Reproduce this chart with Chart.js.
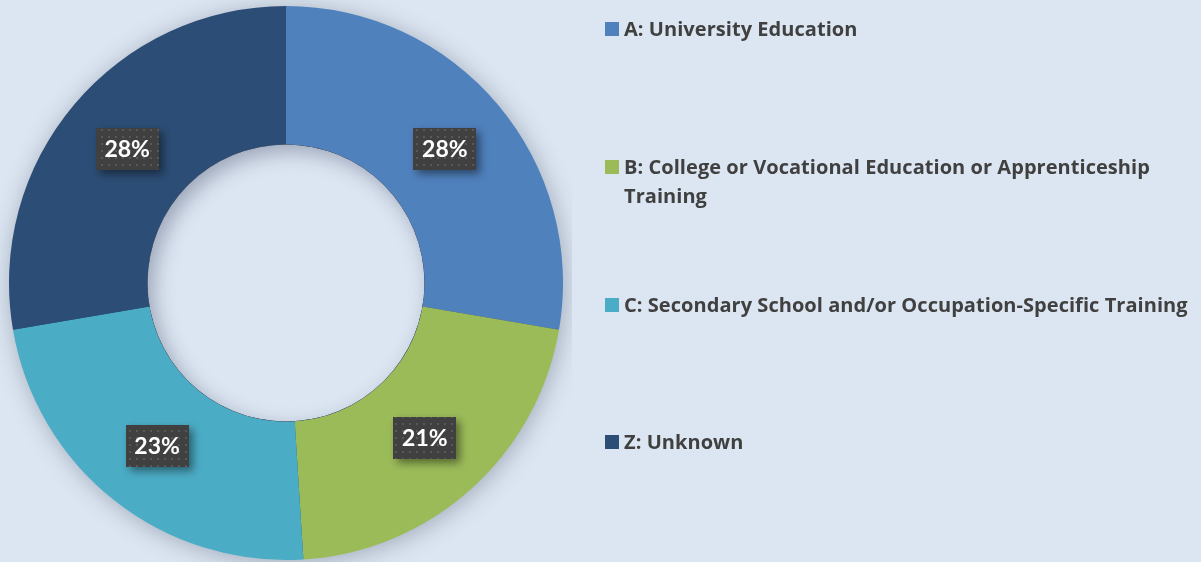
<!DOCTYPE html>
<html>
<head>
<meta charset="utf-8">
<script src="https://cdn.jsdelivr.net/npm/chart.js@4"></script>
<style>
  body { margin: 0; background: #dce6f2; }
  #wrap { position: relative; width: 1201px; height: 562px; overflow: hidden; background: #dce6f2; }
  #chartBox { position: absolute; left: 0; top: 0; width: 572px; height: 562px; }
  #legend { position: absolute; left: 0; top: 0; width: 1201px; height: 562px; pointer-events: none; }
  .item { position: absolute; left: 605px; font-family: "Open Sans", sans-serif; font-weight: bold; color: #404040;
          font-size: 20px; line-height: 29px; letter-spacing: 0.05px; }
  .item .sw { position: absolute; left: 0; top: 8px; width: 14px; height: 14px; }
  .item .tx { position: absolute; left: 19px; top: 0; width: 578px; }
</style>
</head>
<body>
<div id="wrap">
  <div id="chartBox"><canvas id="donut"></canvas></div>
  <div id="legend"></div>
</div>
<script>
const categories = [
  'A: University Education',
  'B: College or Vocational Education or Apprenticeship Training',
  'C: Secondary School and/or Occupation-Specific Training',
  'Z: Unknown'
];
const shares = [27.7, 21.3, 23.3, 27.7];
const colours = ['#4f81bd', '#9bbb59', '#4bacc6', '#2c4d75'];

// legend rows, top of each text block
const legendTops = [14, 152, 290, 427];
const legend = document.getElementById('legend');
categories.forEach((name, i) => {
  const row = document.createElement('div');
  row.className = 'item';
  row.style.top = legendTops[i] + 'px';
  row.innerHTML = '<div class="sw" style="background:' + colours[i] + '"></div><div class="tx">' + name + '</div>';
  legend.appendChild(row);
});

// dotted fill for the value boxes
function dotPattern(ctx) {
  const c = document.createElement('canvas');
  c.width = 7; c.height = 7;
  const p = c.getContext('2d');
  p.fillStyle = '#404040';
  p.fillRect(0, 0, 7, 7);
  p.fillStyle = '#585858';
  p.fillRect(3, 3, 2, 2);
  return ctx.createPattern(c, 'repeat');
}

const ringShadow = {
  id: 'ringShadow',
  beforeDatasetsDraw(chart) {
    const arc = chart.getDatasetMeta(0).data[0];
    if (!arc) return;
    const { x, y, outerRadius } = arc.getProps(['x', 'y', 'outerRadius'], true);
    const ctx = chart.ctx;
    ctx.save();
    ctx.shadowColor = 'rgba(40,50,70,0.35)';
    ctx.shadowBlur = 24;
    ctx.shadowOffsetX = 2;
    ctx.shadowOffsetY = 3;
    ctx.fillStyle = '#2c4d75';
    ctx.beginPath();
    ctx.arc(x, y, outerRadius - 1, 0, Math.PI * 2);
    ctx.fill();
    ctx.restore();
  },
  afterDatasetsDraw(chart) {
    const meta = chart.getDatasetMeta(0);
    const arc0 = meta.data[0];
    const { x, y, innerRadius } = arc0.getProps(['x', 'y', 'innerRadius'], true);
    const ctx = chart.ctx;
    // hole with inset shadow
    ctx.save();
    ctx.beginPath();
    ctx.arc(x, y, innerRadius, 0, Math.PI * 2);
    ctx.fillStyle = '#dce6f2';
    ctx.fill();
    ctx.clip();
    ctx.shadowColor = 'rgba(60,70,100,0.4)';
    ctx.shadowBlur = 20;
    ctx.shadowOffsetX = 6;
    ctx.shadowOffsetY = 7;
    ctx.beginPath();
    ctx.arc(x, y, innerRadius + 40, 0, Math.PI * 2);
    ctx.arc(x, y, innerRadius, 0, Math.PI * 2, true);
    ctx.fillStyle = '#000';
    ctx.fill();
    ctx.restore();

    // value boxes
    const pat = dotPattern(ctx);
    meta.data.forEach((el, i) => {
      const c = el.getCenterPoint();
      const w = 63, h = 42;
      ctx.save();
      ctx.shadowColor = 'rgba(0,0,0,0.45)';
      ctx.shadowBlur = 8;
      ctx.shadowOffsetX = 4;
      ctx.shadowOffsetY = 4;
      ctx.fillStyle = pat;
      ctx.fillRect(Math.round(c.x - w / 2), Math.round(c.y - h / 2), w, h);
      ctx.restore();
      ctx.save();
      ctx.fillStyle = '#ffffff';
      ctx.font = 'bold 23px Lato, sans-serif';
      ctx.textAlign = 'center';
      ctx.textBaseline = 'middle';
      ctx.fillText(Math.round(shares[i]) + '%', c.x, c.y + 1);
      ctx.restore();
    });
  }
};

new Chart(document.getElementById('donut'), {
  type: 'doughnut',
  data: {
    labels: categories,
    datasets: [{
      data: shares,
      backgroundColor: colours,
      borderWidth: 0
    }]
  },
  options: {
    responsive: true,
    maintainAspectRatio: false,
    animation: false,
    cutout: '50%',
    layout: { padding: { left: 9, right: 9, top: 6, bottom: 2 } },
    plugins: {
      legend: { display: false },
      tooltip: { enabled: false }
    }
  },
  plugins: [ringShadow]
});
</script>
</body>
</html>
